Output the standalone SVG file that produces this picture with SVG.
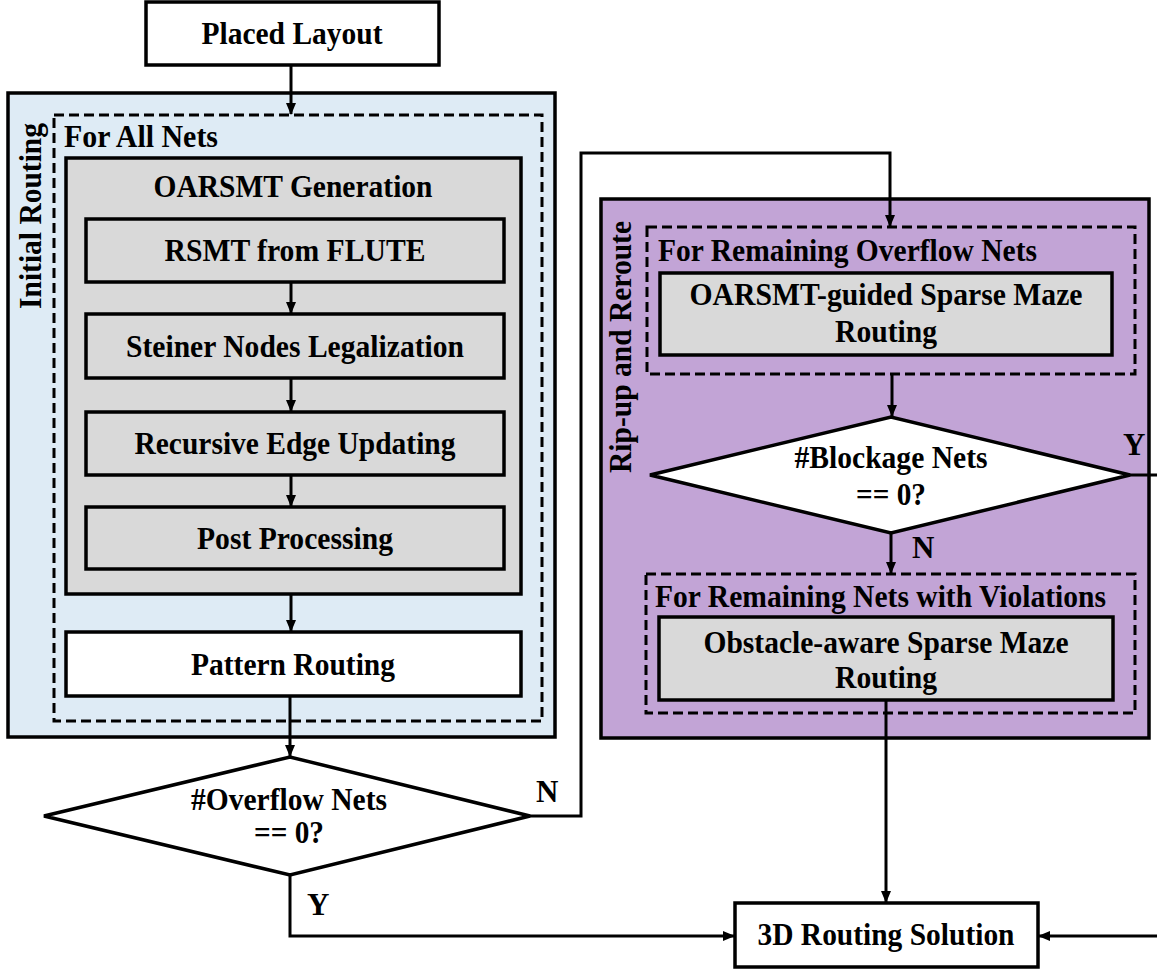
<svg xmlns="http://www.w3.org/2000/svg" width="1157" height="969" viewBox="0 0 1157 969">
<defs>
<marker id="arr" markerUnits="userSpaceOnUse" markerWidth="12" markerHeight="10" refX="11" refY="5" orient="auto">
<path d="M0,0 L12,5 L0,10 Z" fill="#000"/>
</marker>
</defs>
<style>
text{font-family:"Liberation Serif","Times New Roman",serif;font-weight:bold;font-size:31px;fill:#000}
.c{text-anchor:middle}
.box{stroke:#000;stroke-width:3.5}
.dash{fill:none;stroke:#000;stroke-width:3;stroke-dasharray:10,5}
.gray{fill:#d9d9d9}
.white{fill:#fff}
.conn{fill:none;stroke:#000;stroke-width:3}
</style>
<rect width="1157" height="969" fill="#fff"/>

<g id="initial-routing">
<rect class="box" x="8" y="93" width="547" height="644" fill="#deebf5"/>
<text class="c" transform="translate(41,216) rotate(-90)" textLength="186" lengthAdjust="spacingAndGlyphs">Initial Routing</text>
</g>
<g id="for-all-nets">
<rect class="dash" x="54" y="115" width="488" height="606"/>
<text x="64" y="147" textLength="154" lengthAdjust="spacingAndGlyphs">For All Nets</text>
</g>
<g id="oarsmt-generation">
<rect class="box gray" x="66" y="158" width="455" height="436"/>
<text class="c" x="293" y="197" textLength="279" lengthAdjust="spacingAndGlyphs">OARSMT Generation</text>
</g>
<g id="rsmt-flute">
<rect class="box gray" x="86" y="219" width="418" height="63"/>
<text class="c" x="295" y="261" textLength="261" lengthAdjust="spacingAndGlyphs">RSMT from FLUTE</text>
</g>
<g id="steiner">
<rect class="box gray" x="86" y="314" width="418" height="64"/>
<text class="c" x="295" y="357" textLength="338" lengthAdjust="spacingAndGlyphs">Steiner Nodes Legalization</text>
</g>
<g id="recursive">
<rect class="box gray" x="86" y="412" width="418" height="63"/>
<text class="c" x="295" y="454" textLength="321" lengthAdjust="spacingAndGlyphs">Recursive Edge Updating</text>
</g>
<g id="post">
<rect class="box gray" x="86" y="507" width="418" height="62"/>
<text class="c" x="295" y="549" textLength="196" lengthAdjust="spacingAndGlyphs">Post Processing</text>
</g>
<g id="pattern">
<rect class="box white" x="66" y="632" width="455" height="64"/>
<text class="c" x="293" y="675" textLength="204" lengthAdjust="spacingAndGlyphs">Pattern Routing</text>
</g>
<g id="placed-layout">
<rect class="box white" x="146" y="2" width="293" height="63"/>
<text class="c" x="292" y="44" textLength="181" lengthAdjust="spacingAndGlyphs">Placed Layout</text>
</g>
<g id="overflow-decision">
<polygon class="box white" points="44,816 290,757 530,816 290,875"/>
<text class="c" x="289" y="810" textLength="196" lengthAdjust="spacingAndGlyphs">#Overflow Nets</text>
<text class="c" x="289" y="843" textLength="70" lengthAdjust="spacingAndGlyphs">== 0?</text>
</g>

<g id="rip-up-reroute">
<rect class="box" x="601" y="199" width="548" height="539" fill="#c2a4d6"/>
<text class="c" transform="translate(631,347) rotate(-90)" textLength="252" lengthAdjust="spacingAndGlyphs">Rip-up and Reroute</text>
</g>
<g id="remaining-overflow">
<rect class="dash" x="647" y="227" width="488" height="147"/>
<text x="658" y="261" textLength="379" lengthAdjust="spacingAndGlyphs">For Remaining Overflow Nets</text>
</g>
<g id="oarsmt-guided">
<rect class="box gray" x="660" y="273" width="452" height="82"/>
<text class="c" x="886" y="305" textLength="393" lengthAdjust="spacingAndGlyphs">OARSMT-guided Sparse Maze</text>
<text class="c" x="886" y="342" textLength="102" lengthAdjust="spacingAndGlyphs">Routing</text>
</g>
<g id="blockage-decision">
<polygon class="box white" points="650,475 891,417 1130,475 891,533"/>
<text class="c" x="891" y="468" textLength="193" lengthAdjust="spacingAndGlyphs">#Blockage Nets</text>
<text class="c" x="891" y="505" textLength="70" lengthAdjust="spacingAndGlyphs">== 0?</text>
</g>
<g id="remaining-violations">
<rect class="dash" x="646" y="574" width="489" height="139"/>
<text x="655" y="607" textLength="451" lengthAdjust="spacingAndGlyphs">For Remaining Nets with Violations</text>
</g>
<g id="obstacle-aware">
<rect class="box gray" x="659" y="617" width="454" height="83"/>
<text class="c" x="886" y="653" textLength="365" lengthAdjust="spacingAndGlyphs">Obstacle-aware Sparse Maze</text>
<text class="c" x="886" y="688" textLength="102" lengthAdjust="spacingAndGlyphs">Routing</text>
</g>
<g id="solution">
<rect class="box white" x="735" y="903" width="303" height="64"/>
<text class="c" x="886" y="945" textLength="257" lengthAdjust="spacingAndGlyphs">3D Routing Solution</text>
</g>

<g id="connectors">
<path class="conn" d="M291,65 V114" marker-end="url(#arr)"/>
<path class="conn" d="M291,282 V313" marker-end="url(#arr)"/>
<path class="conn" d="M291,378 V411" marker-end="url(#arr)"/>
<path class="conn" d="M291,475 V506" marker-end="url(#arr)"/>
<path class="conn" d="M291,594 V631" marker-end="url(#arr)"/>
<path class="conn" d="M290,696 V756" marker-end="url(#arr)"/>
<path class="conn" d="M530,816 H581 V153 H890 V226" marker-end="url(#arr)"/>
<path class="conn" d="M290,875 V936 H734" marker-end="url(#arr)"/>
<path class="conn" d="M892,374 V416" marker-end="url(#arr)"/>
<path class="conn" d="M891,533 V573" marker-end="url(#arr)"/>
<path class="conn" d="M886,700 V902" marker-end="url(#arr)"/>
<path class="conn" d="M1130,475 H1170 V936 H1039" marker-end="url(#arr)"/>
<text x="536" y="802">N</text>
<text x="307" y="915">Y</text>
<text x="1123" y="455">Y</text>
<text x="912" y="558">N</text>
</g>
</svg>
